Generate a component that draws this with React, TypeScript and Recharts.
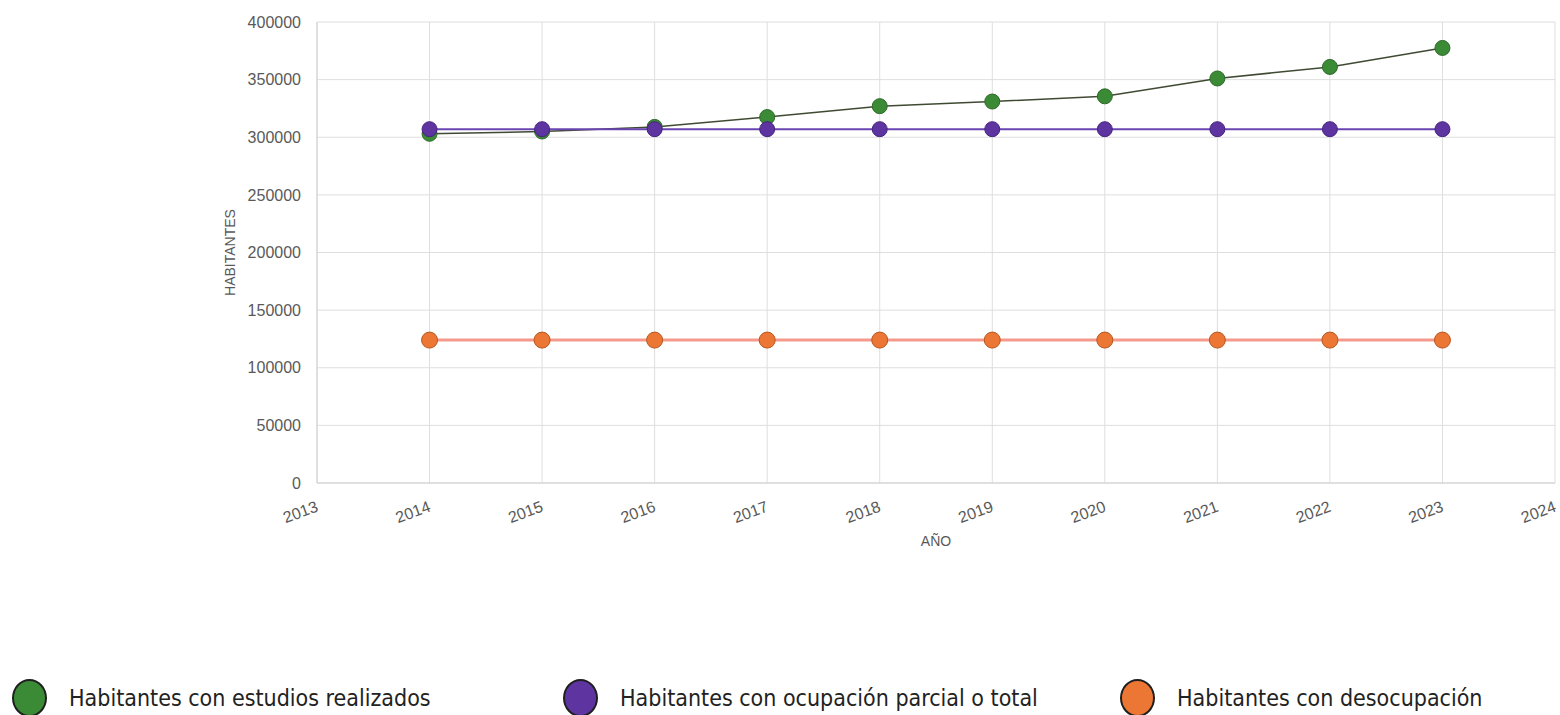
import React from "react";
import { CartesianGrid, Line, LineChart, XAxis, YAxis, Label } from "recharts";

const years = [2014, 2015, 2016, 2017, 2018, 2019, 2020, 2021, 2022, 2023];
const estudios = [303000, 305000, 309000, 317500, 327000, 331000, 335500, 351000, 361000, 377500];
const ocupacion = [307000, 307000, 307000, 307000, 307000, 307000, 307000, 307000, 307000, 307000];
const desocupacion = [124000, 124000, 124000, 124000, 124000, 124000, 124000, 124000, 124000, 124000];

const xTicks = [2013, 2014, 2015, 2016, 2017, 2018, 2019, 2020, 2021, 2022, 2023, 2024];
const yTicks = [0, 50000, 100000, 150000, 200000, 250000, 300000, 350000, 400000];

const seriesNames = [
  "Habitantes con estudios realizados",
  "Habitantes con ocupación parcial o total",
  "Habitantes con desocupación",
];
const seriesFill = ["#3a8a36", "#5e35a0", "#ec7634"];

const data = years.map((y, i) => ({
  year: y,
  estudios: estudios[i],
  ocupacion: ocupacion[i],
  desocupacion: desocupacion[i],
}));

const tickFont = "'Liberation Sans', Arial, sans-serif";

function XTick({ x, y, payload }: any) {
  const ax = x + 2;
  const ay = y + 28;
  return (
    <text
      x={ax}
      y={ay}
      transform={`rotate(-20, ${ax}, ${ay})`}
      textAnchor="end"
      fill="#595959"
      fontSize={16}
      fontFamily={tickFont}
    >
      {payload.value}
    </text>
  );
}

function YLabel({ viewBox }: any) {
  const cx = viewBox.x + viewBox.width - 87;
  const cy = viewBox.y + viewBox.height / 2;
  return (
    <text
      x={cx}
      y={cy}
      transform={`rotate(-90, ${cx}, ${cy})`}
      textAnchor="middle"
      dominantBaseline="central"
      fill="#595959"
      fontSize={14}
      fontFamily={tickFont}
    >
      HABITANTES
    </text>
  );
}

const legendPos = [12, 563, 1120];
const legendGap = [22, 22, 22];

export default function App() {
  return (
    <div style={{ position: "absolute", left: 0, top: 0, width: 1560, height: 715, background: "#fff" }}>
      <LineChart width={1560} height={600} data={data} margin={{ top: 22, right: 5, left: 0, bottom: 0 }}>
        <CartesianGrid stroke="#dedede" strokeWidth={1} />
        <XAxis
          dataKey="year"
          type="number"
          domain={[2013, 2024]}
          ticks={xTicks}
          interval={0}
          height={117}
          tickSize={0}
          tickMargin={0}
          tick={<XTick />}
          axisLine={{ stroke: "#d0d0d0" }}
        >
          <Label
            value="AÑO"
            position="insideTop"
            offset={53}
            fill="#595959"
            fontSize={14}
            fontFamily={tickFont}
          />
        </XAxis>
        <YAxis
          type="number"
          domain={[0, 400000]}
          ticks={yTicks}
          width={317}
          tickSize={0}
          tickMargin={16}
          tick={{ fill: "#595959", fontSize: 16, fontFamily: tickFont }}
          axisLine={{ stroke: "#d0d0d0" }}
        >
          <Label content={<YLabel />} />
        </YAxis>
        <Line
          dataKey="estudios"
          stroke="#3f4a33"
          strokeWidth={1.5}
          dot={{ r: 7.5, fill: seriesFill[0], stroke: "#2f6a2b", strokeWidth: 1 }}
          isAnimationActive={false}
        />
        <Line
          dataKey="ocupacion"
          stroke="#6a44b0"
          strokeWidth={2}
          dot={{ r: 7.5, fill: seriesFill[1], stroke: "#47237f", strokeWidth: 1 }}
          isAnimationActive={false}
        />
        <Line
          dataKey="desocupacion"
          stroke="#f39a8c"
          strokeWidth={3}
          dot={{ r: 8, fill: seriesFill[2], stroke: "#b8561f", strokeWidth: 1 }}
          isAnimationActive={false}
        />
      </LineChart>
      {seriesNames.map((name, i) => (
        <div
          key={name}
          style={{
            position: "absolute",
            left: legendPos[i],
            top: 679,
            display: "flex",
            alignItems: "center",
            fontFamily: "'Liberation Sans Narrow', 'DejaVu Sans Condensed', sans-serif",
            fontSize: 23,
            color: "#222",
            whiteSpace: "nowrap",
          }}
        >
          <div
            style={{
              width: 31,
              height: 34,
              borderRadius: "50%",
              background: seriesFill[i],
              border: "2px solid #1f1f1f",
              marginRight: legendGap[i],
            }}
          />
          {name}
        </div>
      ))}
    </div>
  );
}
